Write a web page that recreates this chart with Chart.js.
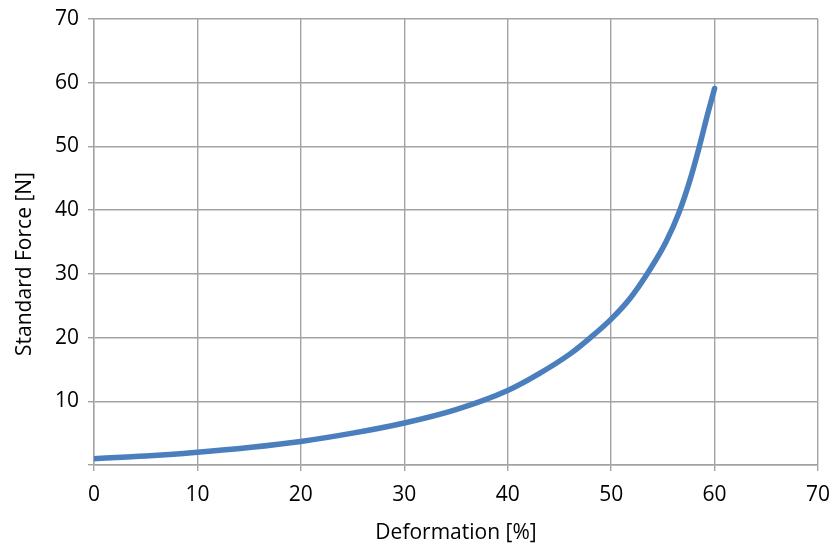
<!DOCTYPE html>
<html>
<head>
<meta charset="utf-8">
<script src="https://cdn.jsdelivr.net/npm/chart.js@4"></script>
<style>
  html, body { margin: 0; padding: 0; background: #fff; }
</style>
</head>
<body>
<canvas id="forceChart" width="831" height="546"></canvas>
<script>
// deformação (%) e força padrão (N) medidas no ensaio
const deformation = [0, 5, 10, 15, 20, 25, 30, 35, 40, 43, 46, 48, 50, 51.8, 53.6, 55.3, 56.6, 57.6, 58.5, 59.35, 60];
const standardForce = [1.0, 1.4, 2.0, 2.75, 3.7, 5.0, 6.6, 8.7, 11.7, 14.3, 17.4, 20.0, 22.9, 26.1, 30.3, 35.0, 39.8, 44.6, 49.8, 55.2, 59.1];
const axisTicks = [0, 10, 20, 30, 40, 50, 60, 70];
const yTitle = 'Standard Force [N]';
const xTitle = 'Deformation [%]';

const points = deformation.map((x, i) => ({ x: x, y: standardForce[i] }));

const fontFamily = "'Open Sans', 'Noto Sans', sans-serif";
const gridColor = '#a3a3a3';

// título do eixo Y desenhado à mão (fica um pouco abaixo do centro da área)
const yTitlePlugin = {
    id: 'yTitle',
    afterDraw(chart) {
        const ctx = chart.ctx;
        const area = chart.chartArea;
        ctx.save();
        ctx.translate(25, (area.top + area.bottom) / 2 + 22);
        ctx.rotate(-Math.PI / 2);
        ctx.font = "21px " + fontFamily;
        ctx.fillStyle = '#000';
        ctx.textAlign = 'center';
        ctx.textBaseline = 'middle';
        ctx.fillText(yTitle, 0, 0);
        ctx.restore();
    }
};

new Chart(document.getElementById('forceChart').getContext('2d'), {
    type: 'scatter',
    data: {
        datasets: [{
            label: 'Standard Force',
            data: points,
            showLine: true,
            borderColor: '#4a7ebd',
            borderWidth: 5.5,
            borderCapStyle: 'round',
            pointRadius: 0,
            cubicInterpolationMode: 'monotone',
            fill: false
        }]
    },
    options: {
        responsive: false,
        animation: false,
        layout: { padding: { top: 19, right: 13, left: 0, bottom: 0 } },
        plugins: {
            legend: { display: false },
            tooltip: { enabled: false }
        },
        scales: {
            x: {
                type: 'linear',
                min: axisTicks[0],
                max: axisTicks[axisTicks.length - 1],
                afterBuildTicks: scale => { scale.ticks = axisTicks.map(v => ({ value: v })); },
                afterFit: scale => {
                    scale.height = 81;
                    scale.paddingLeft = 0;
                    scale.paddingRight = 0;
                },
                grid: { color: gridColor, lineWidth: 1.4, tickLength: 6, drawTicks: true },
                border: { color: gridColor, width: 1.4 },
                ticks: {
                    color: '#000',
                    padding: 11,
                    font: { family: fontFamily, size: 21 },
                    maxRotation: 0
                },
                title: {
                    display: true,
                    text: xTitle,
                    color: '#000',
                    font: { family: fontFamily, size: 21 },
                    padding: { top: 0, bottom: 0 }
                }
            },
            y: {
                type: 'linear',
                min: axisTicks[0],
                max: axisTicks[axisTicks.length - 1],
                afterBuildTicks: scale => { scale.ticks = axisTicks.map(v => ({ value: v })); },
                afterFit: scale => {
                    scale.width = 94;
                    scale.paddingTop = 0;
                    scale.paddingBottom = 0;
                },
                grid: { color: gridColor, lineWidth: 1.4, tickLength: 6, drawTicks: true },
                border: { color: gridColor, width: 1.4 },
                ticks: {
                    color: '#000',
                    padding: 9,
                    font: { family: fontFamily, size: 21 },
                    // o zero não aparece no eixo vertical
                    callback: v => (v === 0 ? '' : v)
                },
                title: { display: false }
            }
        }
    },
    plugins: [yTitlePlugin]
});
</script>
</body>
</html>
